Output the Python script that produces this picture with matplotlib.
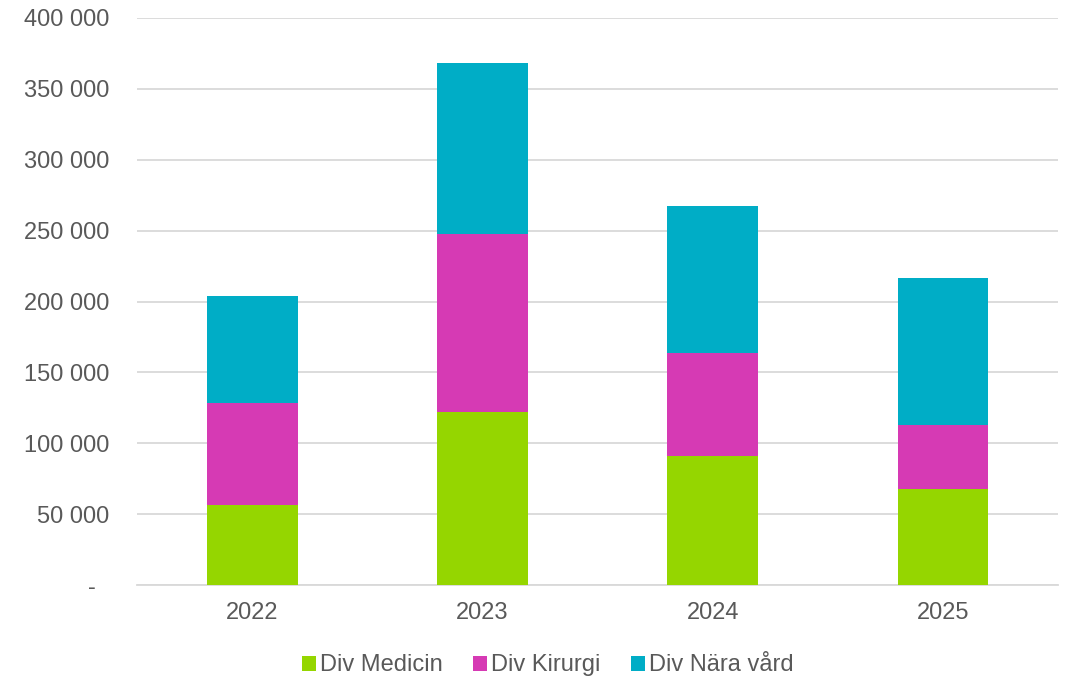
import matplotlib.pyplot as plt
import numpy as np
from matplotlib.ticker import FuncFormatter

years = ["2022", "2023", "2024", "2025"]
medicin = [56500, 122000, 91000, 67700]
kirurgi = [72000, 125600, 72700, 45200]
nara_vard = [75500, 120700, 103700, 103700]

series = [
    ("Div Medicin", medicin, "#95d600"),
    ("Div Kirurgi", kirurgi, "#d63ab4"),
    ("Div Nära vård", nara_vard, "#00adc6"),
]

plt.rcParams["font.family"] = ["Liberation Sans", "DejaVu Sans"]

fig = plt.figure(figsize=(10.71, 6.79), dpi=100)
ax = fig.add_axes([0.128, 0.1384, 0.860, 0.8351])

x = np.arange(len(years))
bottom = np.zeros(len(years))
for name, vals, color in series:
    ax.bar(x, vals, width=0.395, bottom=bottom, color=color, label=name, zorder=3)
    bottom += np.array(vals)

ax.set_xlim(-0.5, len(years) - 0.5)
ax.set_ylim(0, 400000)
ax.set_yticks(np.arange(0, 400001, 50000))


def fmt(v, pos):
    # Excel-style accounting format: zero shown as a dash, indented
    if v == 0:
        return "-  "
    return f"{int(v):,}".replace(",", " ")


ax.yaxis.set_major_formatter(FuncFormatter(fmt))
ax.set_xticks(x)
ax.set_xticklabels(years)

ax.grid(axis="y", color="#d9d9d9", lw=1.3, zorder=0)
for s in ["top", "right", "left"]:
    ax.spines[s].set_visible(False)
ax.spines["bottom"].set_color("#d9d9d9")
ax.spines["bottom"].set_linewidth(1.3)
ax.tick_params(axis="both", length=0, labelsize=17, colors="#595959")
ax.tick_params(axis="y", pad=20)
ax.tick_params(axis="x", pad=12)

ax.legend(loc="upper center", bbox_to_anchor=(0.446, -0.085), ncol=3, frameon=False,
          fontsize=17, labelcolor="#595959", handlelength=0.6, handleheight=0.6,
          handletextpad=0.17, columnspacing=1.27)

fig.savefig("out.png", dpi=100)
